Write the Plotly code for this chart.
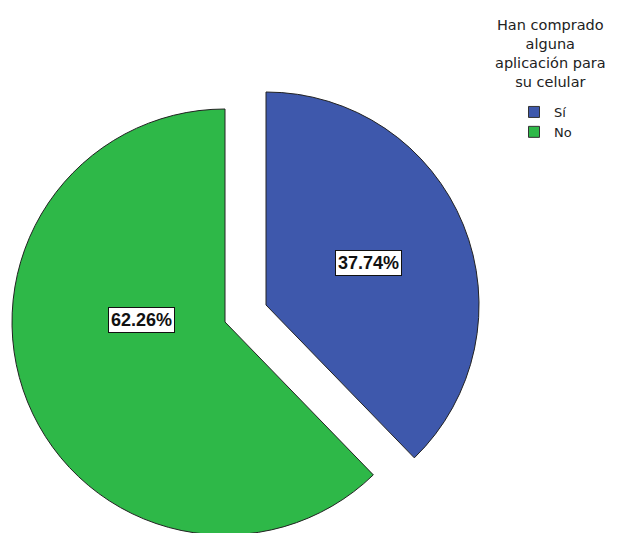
import math
import plotly.graph_objects as go

# ---- data ----
labels = ["Sí", "No"]
values = [37.74, 62.26]
colors = ["#3E58AC", "#2EB848"]
legend_title = "Han comprado<br>alguna<br>aplicación para<br>su celular"

# ---- layout constants (pixels, figure coordinates) ----
W, H = 624, 533
R = 213
centers = [(258, 297), (217, 314)]  # exploded positions of each slice
label_polar = [(0.0, 0.52), (23.5, 0.39)]  # angle nudge (deg), radial fraction

def px_domain(cx, cy, r):
    return dict(x=[max(0, (cx - r) / W), min(1, (cx + r) / W)],
                y=[max(0, 1 - (cy + r) / H), min(1, 1 - (cy - r) / H)])

fig = go.Figure()
total = sum(values)
start = 0.0
for i, (lab, val) in enumerate(zip(labels, values)):
    cols = ["rgba(0,0,0,0)"] * len(values)
    cols[i] = colors[i]
    lw = [0] * len(values)
    lw[i] = 1
    cx, cy = centers[i]
    fig.add_trace(go.Pie(
        labels=labels, values=values, sort=False, direction="clockwise",
        rotation=0, marker=dict(colors=cols, line=dict(color="#222222", width=lw)),
        textinfo="none", hoverinfo="skip", showlegend=False,
        domain=px_domain(cx, cy, R),
    ))
    # percentage label box
    mid = (start + val / 2) / total * 360 + label_polar[i][0]
    d = label_polar[i][1] * R
    lx = cx + d * math.sin(math.radians(mid))
    ly = cy - d * math.cos(math.radians(mid))
    fig.add_annotation(
        x=lx / W, y=1 - ly / H, xref="paper", yref="paper",
        xanchor="center", yanchor="middle",
        text="<b>%.2f%%</b>" % (val / total * 100), showarrow=False,
        font=dict(family="Liberation Sans, Arial", size=18, color="#111111"),
        bgcolor="white", bordercolor="#111111", borderwidth=1, borderpad=2,
    )
    start += val

# legend entries
for lab, col in zip(labels, colors):
    fig.add_trace(go.Scatter(
        x=[None], y=[None], mode="markers", name=lab,
        marker=dict(symbol="square", size=11, color=col,
                    line=dict(color="#333333", width=1)),
    ))

fig.add_annotation(
    x=542 / W, y=1 - 7 / H, xref="paper", yref="paper", xanchor="center", yanchor="top",
    text=legend_title, showarrow=False, align="center",
    font=dict(family="DejaVu Sans", size=14.5, color="#222222"),
)

fig.update_layout(
    width=W, height=H, autosize=False,
    margin=dict(l=0, r=0, t=0, b=0),
    paper_bgcolor="white", plot_bgcolor="white",
    xaxis=dict(visible=False), yaxis=dict(visible=False),
    showlegend=True,
    legend=dict(x=506 / W, y=1 - 89 / H, xanchor="left", yanchor="top",
                font=dict(family="DejaVu Sans", size=13, color="#222222"),
                bgcolor="rgba(0,0,0,0)", tracegroupgap=0, itemwidth=30),
)

fig.write_html("out.html")
